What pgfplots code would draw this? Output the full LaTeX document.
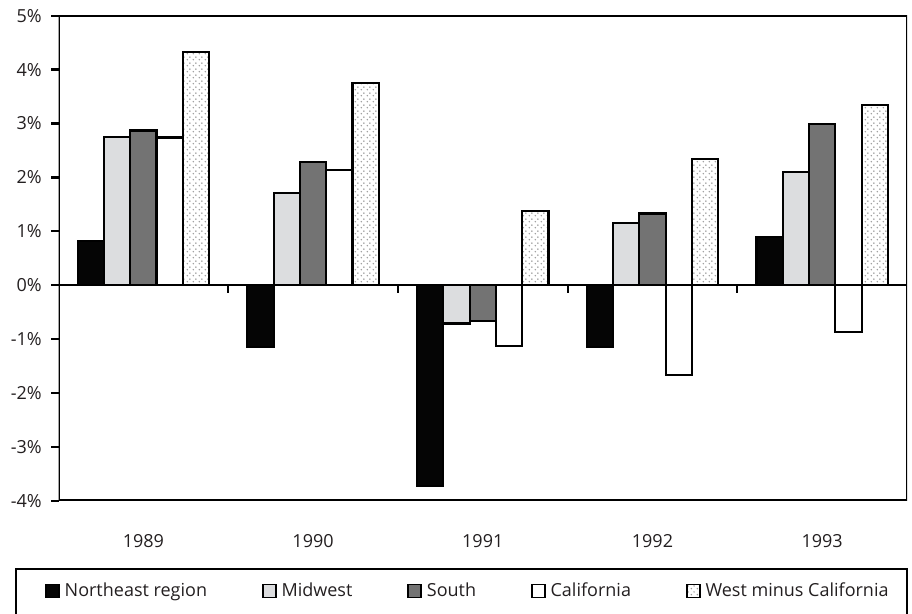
\documentclass[border=0pt]{standalone}
\usepackage{fontspec}
\setmainfont{Open Sans}
\usepackage{pgfplots}
\usepackage{pgfplotstable}
\pgfplotsset{compat=1.18}
\usetikzlibrary{patterns,patterns.meta}
\definecolor{txt}{HTML}{231F20}
\definecolor{mw}{HTML}{DCDDDF}
\definecolor{so}{HTML}{737373}
\definecolor{ne}{HTML}{050505}
\definecolor{dotc}{HTML}{999999}

\tikzdeclarepattern{
  name=sparsedots,
  type=uncolored,
  bottom left={(0pt,0pt)},
  top right={(6pt,6pt)},
  tile size={(6pt,6pt)},
  code={
    \fill (1.5pt,1.5pt) circle (0.9pt);
    \fill (4.5pt,4.5pt) circle (0.9pt);
  }
}

\pgfplotstableread{
x ne mw so ca we
1 0.82 2.75 2.87 2.74 4.33
2 -1.15 1.71 2.29 2.14 3.75
3 -3.72 -0.71 -0.67 -1.13 1.37
4 -1.15 1.16 1.33 -1.66 2.34
5 0.89 2.10 2.99 -0.87 3.35
}\datatable

\pgfplotsset{
  mybar/.style={draw=black, line width=2.2pt,
    legend image code/.code={\draw[##1, line width=1.5pt] (0pt,-6.5pt) rectangle (13pt,6.5pt);}},
}

\begin{document}
\fontsize{18}{21}\selectfont
\begin{tikzpicture}
\path[use as bounding box] (0,0) rectangle (912pt,613pt);
\begin{axis}[
  at={(58.5pt,112.3pt)}, anchor=south west,
  width=848.5pt, height=485pt, scale only axis,
  xmin=0.5, xmax=5.5, ymin=-4, ymax=5,
  axis line style={draw=none},
  ybar=0pt, bar width=26.3pt,
  xtick={1,2,3,4,5}, xticklabels={1989,1990,1991,1992,1993},
  x tick style={draw=none},
  xticklabel style={anchor=base, yshift=-39.5pt, text=txt},
  ytick={-4,-3,-2,-1,0,1,2,3,4,5},
  yticklabels={-4\%,-3\%,-2\%,-1\%,0\%,1\%,2\%,3\%,4\%,5\%},
  ytick pos=left, tick align=outside, major tick length=7pt,
  y tick style={line width=2.4pt, black},
  yticklabel style={text=txt, xshift=-3.5pt},
  legend columns=5,
  legend style={draw=none, fill=none, inner sep=0pt,
    at={(axis description cs:-0.0159,-0.1862)}, anchor=west,
    nodes={inner sep=0pt, text=txt},
    /tikz/every odd column/.append style={column sep=5pt},
    /tikz/every even column/.append style={column sep=55pt}},
  legend cell align=left,
]
\addplot[mybar, fill=ne] table[x=x, y=ne] {\datatable};
\addlegendentry{Northeast region}
\addplot[mybar, fill=mw] table[x=x, y=mw] {\datatable};
\addlegendentry{Midwest}
\addplot[mybar, fill=so] table[x=x, y=so] {\datatable};
\addlegendentry{South}
\addplot[mybar, fill=white] table[x=x, y=ca] {\datatable};
\addlegendentry{California}
\addplot[mybar, fill=white, postaction={pattern=sparsedots, pattern color=dotc}] table[x=x, y=we] {\datatable};
\addlegendentry{West minus California}
\draw[line width=2.2pt] (axis cs:0.5,0) -- (axis cs:5.5,0);
\pgfplotsinvokeforeach{1.5,2.5,3.5,4.5}{
  \draw[line width=2.2pt] (axis cs:#1,0) -- ([yshift=-7.5pt]axis cs:#1,0);
}
\draw[line width=2.5pt] (rel axis cs:0,0) rectangle (rel axis cs:1,1);
\end{axis}
\draw[line width=2.2pt] (16pt,-3pt) rectangle (907pt,44pt);
\end{tikzpicture}
\end{document}
